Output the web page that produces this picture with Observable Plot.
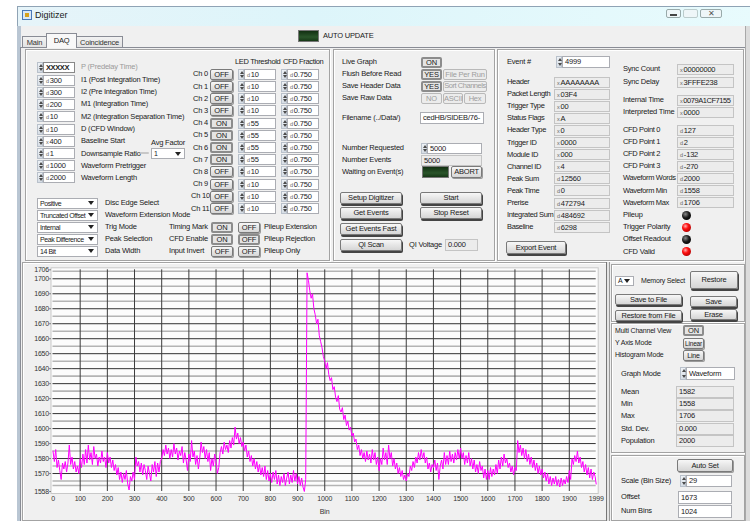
<!DOCTYPE html>
<html><head><meta charset="utf-8">
<script src="https://cdn.jsdelivr.net/npm/d3@7"></script>
<script src="https://cdn.jsdelivr.net/npm/@observablehq/plot@0.6"></script>
<style>
body{margin:0;width:750px;height:521px;overflow:hidden;background:#fff;font-family:"Liberation Sans",Arial,sans-serif;font-size:7.5px;letter-spacing:-0.2px;color:#1a1a1a;position:relative}
.a{position:absolute;white-space:nowrap;box-sizing:border-box}
.t{line-height:10px}
.box{border:1px solid #abadb3;background:#fff;padding-left:2px;overflow:hidden}
.ind{border:1px solid #c4c4c4;background:#ececec;padding-left:2px;overflow:hidden}
.rx{font-size:5.5px;color:#666;margin-right:1px}
.btn{border:1px solid #7a7a7a;border-radius:2px;background:linear-gradient(#f7f7f7,#e6e6e6 50%,#d6d6d6);text-align:center;box-shadow:1px 1px 0 #9a9a9a}
.big{box-shadow:1px 2px 0 #444}
.on{border:2px solid #8c8c8c;background:#e4e4e4;box-shadow:none}
.dis{color:#9d9d9d;border-color:#b9b9b9;background:#ececec;box-shadow:none}
.grp{border:1px solid #a3a3a3;box-shadow:inset 1px 1px 0 #fff,1px 1px 0 #fff}
.sp{border:1px solid #b9c1cb;background:linear-gradient(#eef2f6,#d6dde5)}
.sp i{position:absolute;left:0.5px;width:0;height:0;border-left:2px solid transparent;border-right:2px solid transparent}
.sp i:first-child{top:1px;border-bottom:3px solid #4a4a4a}
.sp i:last-child{bottom:1px;border-top:3px solid #4a4a4a}
.arr{border-left:3.5px solid transparent;border-right:3.5px solid transparent;border-top:4px solid #222}
.gled{border:1px solid #777;background:linear-gradient(#123012,#2a552a 60%,#163816)}
.rled{border-radius:50%}
.cond{letter-spacing:-0.45px}
.ddb{font-size:7px;letter-spacing:-0.4px}
</style></head><body>
<div id="ui"></div>
<div id="chart" class="a" style="left:27px;top:262px"></div>
<script>
// ---------- waveform data ----------
const bin = [
0,5,10,15,20,25,30,35,40,45,50,55,60,65,70,75,80,85,90,95,
100,105,110,115,120,125,130,135,140,145,150,155,160,165,170,175,180,185,190,195,
200,205,210,215,220,225,230,235,240,245,250,255,260,265,270,275,280,285,290,295,
300,305,310,315,320,325,330,335,340,345,350,355,360,365,370,375,380,385,390,395,
400,405,410,415,420,425,430,435,440,445,450,455,460,465,470,475,480,485,490,495,
500,505,510,515,520,525,530,535,540,545,550,555,560,565,570,575,580,585,590,595,
600,605,610,615,620,625,630,635,640,645,650,655,660,665,670,675,680,685,690,695,
700,705,710,715,720,725,730,735,740,745,750,755,760,765,770,775,780,785,790,795,
800,805,810,815,820,825,830,835,840,845,850,855,860,865,870,875,880,885,890,895,
900,905,910,915,920,925,930,935,940,945,950,955,960,965,970,975,980,985,990,995,
1000,1005,1010,1015,1020,1025,1030,1035,1040,1045,1050,1055,1060,1065,1070,1075,1080,1085,1090,1095,
1100,1105,1110,1115,1120,1125,1130,1135,1140,1145,1150,1155,1160,1165,1170,1175,1180,1185,1190,1195,
1200,1205,1210,1215,1220,1225,1230,1235,1240,1245,1250,1255,1260,1265,1270,1275,1280,1285,1290,1295,
1300,1305,1310,1315,1320,1325,1330,1335,1340,1345,1350,1355,1360,1365,1370,1375,1380,1385,1390,1395,
1400,1405,1410,1415,1420,1425,1430,1435,1440,1445,1450,1455,1460,1465,1470,1475,1480,1485,1490,1495,
1500,1505,1510,1515,1520,1525,1530,1535,1540,1545,1550,1555,1560,1565,1570,1575,1580,1585,1590,1595,
1600,1605,1610,1615,1620,1625,1630,1635,1640,1645,1650,1655,1660,1665,1670,1675,1680,1685,1690,1695,
1700,1705,1710,1715,1720,1725,1730,1735,1740,1745,1750,1755,1760,1765,1770,1775,1780,1785,1790,1795,
1800,1805,1810,1815,1820,1825,1830,1835,1840,1845,1850,1855,1860,1865,1870,1875,1880,1885,1890,1895,
1900,1905,1910,1915,1920,1925,1930,1935,1940,1945,1950,1955,1960,1965,1970,1975,1980,1985,1990,1995,1999];
const adc = [
1585,1578,1586,1574,1579,1572,1566,1577,1573,1578,1571,1577,1589,1576,1581,1573,1578,1571,1575,1570,
1580,1574,1583,1576,1586,1577,1589,1579,1584,1576,1588,1580,1583,1575,1581,1577,1585,1578,1581,1574,
1584,1577,1581,1574,1579,1572,1576,1569,1574,1566,1571,1564,1570,1566,1572,1563,1559,1568,1565,1571,
1566,1581,1575,1578,1571,1577,1569,1576,1572,1566,1575,1570,1565,1576,1571,1578,1568,1577,1571,1578,
1580,1586,1582,1589,1583,1587,1580,1586,1581,1590,1583,1587,1579,1585,1582,1588,1577,1584,1579,1572,
1583,1578,1592,1581,1585,1576,1582,1573,1580,1591,1584,1588,1580,1586,1578,1584,1572,1580,1575,1583,
1578,1570,1574,1584,1588,1583,1591,1586,1589,1584,1592,1587,1594,1589,1601,1593,1597,1590,1594,1588,
1591,1585,1589,1581,1585,1578,1582,1575,1580,1573,1578,1571,1576,1569,1574,1568,1575,1566,1572,1565,
1570,1564,1571,1566,1572,1563,1569,1562,1568,1564,1570,1562,1567,1571,1563,1569,1564,1572,1565,1570,
1563,1568,1562,1567,1561,1558,1566,1704,1699,1692,1687,1690,1680,1676,1670,1673,1662,1658,1654,1648,
1645,1640,1644,1636,1632,1634,1626,1628,1621,1618,1622,1613,1611,1614,1606,1609,1602,1605,1599,1601,
1595,1597,1591,1593,1586,1589,1582,1586,1580,1584,1578,1585,1579,1583,1577,1586,1579,1584,1576,1581,
1572,1580,1576,1587,1579,1584,1576,1589,1580,1584,1575,1580,1573,1577,1570,1574,1568,1572,1566,1569,
1565,1570,1568,1575,1572,1578,1574,1581,1577,1584,1579,1586,1580,1584,1577,1581,1573,1577,1571,1576,
1574,1579,1572,1577,1566,1575,1579,1573,1584,1576,1582,1576,1585,1578,1583,1577,1584,1579,1586,1580,
1587,1580,1584,1576,1582,1577,1584,1575,1580,1573,1579,1571,1576,1570,1578,1572,1575,1567,1573,1566,
1572,1566,1574,1568,1573,1569,1576,1570,1579,1573,1581,1575,1583,1577,1580,1574,1577,1571,1575,1569,
1574,1572,1592,1584,1589,1582,1587,1580,1586,1578,1583,1576,1581,1574,1579,1572,1577,1570,1575,1569,
1573,1567,1571,1565,1570,1563,1568,1562,1567,1563,1568,1562,1566,1561,1567,1562,1566,1563,1568,1564,
1572,1566,1580,1576,1582,1578,1585,1577,1581,1574,1578,1571,1576,1569,1574,1567,1573,1566,1571,1568,1563];
const xTicks = [0,100,200,300,400,500,600,700,800,900,1000,1100,1200,1300,1400,1500,1600,1700,1800,1900,1999];
const yTicks = [1558,1570,1580,1590,1600,1610,1620,1630,1640,1650,1660,1670,1680,1690,1700,1706];
const xGrid = [100,200,300,400,500,600,700,800,900,1000,1100,1200,1300,1400,1500,1600,1700,1800,1900];
const yMajor = [1570,1580,1590,1600,1610,1620,1630,1640,1650,1660,1670,1680,1690,1700];
const yMinor = [1562,1565,1575,1585,1595,1605,1615,1625,1635,1645,1655,1665,1675,1685,1695,1705];

// ---------- GUI panel texts ----------
const leftVals = ["300","300","200","10","10","400","1","1000","2000"];
const leftPre = ["d","d","d","d","d","x","d","d","d"];
const leftLabels = ["I1 (Post Integration Time)","I2 (Pre Integration Time)","M1 (Integration Time)","M2 (Integration Separation Time)","D (CFD Window)","Baseline Start","Downsample Ratio","Waveform Pretrigger","Waveform Length"];
const chState = ["OFF","OFF","OFF","OFF","ON","ON","ON","ON","OFF","OFF","OFF","OFF"];
const ledThr = [10,10,10,10,55,55,55,55,10,10,10,10];
const cfdFrac = ["0.750","0.750","0.750","0.750","0.750","0.750","0.750","0.750","0.750","0.750","0.750","0.750"];
const ddVals = ["Positive","Truncated Offset","Internal","Peak Difference","14 Bit"];
const ddLabels = ["Disc Edge Select","Waveform Extension Mode","Trig Mode","Peak Selection","Data Width"];
const hdrLabels = ["Header","Packet Length","Trigger Type","Status Flags","Header Type","Trigger ID","Module ID","Channel ID","Peak Sum","Peak Time","Prerise","Integrated Sum","Baseline"];
const hdrPre = ["x","x","x","x","x","x","x","x","d","d","d","d","d"];
const hdrVals = ["AAAAAAAA","03F4","00","A","0","0000","000","4","12560","0","472794","484692","6298"];
const cfdLabels = ["CFD Point 0","CFD Point 1","CFD Point 2","CFD Point 3","Waveform Words","Waveform Min","Waveform Max"];
const cfdVals = ["127","2","-132","-270","2000","1558","1706"];
const flagLabels = ["Pileup","Trigger Polarity","Offset Readout","CFD Valid"];
const flagOn = [false,true,false,true];
const statLabels = ["Mean","Min","Max","Std. Dev.","Population"];
const statVals = ["1582","1558","1706","0.000","2000"];

// ---------- GUI helpers ----------
const ui = document.getElementById('ui');
function el(cls,x,y,w,h,html,style){
  const d=document.createElement('div'); d.className='a '+cls;
  d.style.left=x+'px'; d.style.top=y+'px';
  if(w!=null) d.style.width=w+'px'; if(h!=null) d.style.height=h+'px';
  if(html!=null) d.innerHTML=html; if(style) Object.assign(d.style,style);
  ui.appendChild(d); return d;
}
const T=(x,yc,t,style)=>el('t',x,yc-5,null,10,t,style);
function box(x,y,w,h,txt,cls,pre){const d=el(cls||'box',x,y,w,h,(pre?'<span class="rx">'+pre+'</span>':'')+txt);d.style.lineHeight=(h-2)+'px';return d;}
function btn(x,y,w,h,txt,cls){const d=el('btn '+(cls||''),x,y,w,h,txt);d.style.lineHeight=(h-(cls&&cls.includes('on')?4:2))+'px';return d;}
function spin(x,y,w,h,txt,pre){el('sp',x,y,6,h,'<i></i><i></i>');return box(x+6,y,w-6,h,txt,'box',pre);}
function dd(x,y,w,h,txt){box(x,y,w,h,txt,'box ddb');if(w>30)el('',x+w-12,y+1,11,h-2,'',{background:'#fff'});el('arr',x+w-10,y+h/2-2,0,0,'');}
function rled(cx,cy,r,on){el('rled',cx-r,cy-r,2*r,2*r,'',{background:on?'radial-gradient(circle at 38% 35%,#ffb0b0 0,#ff1010 35%,#b00000 80%)':'radial-gradient(circle at 38% 35%,#8a8a8a 0,#1a1a1a 45%,#000 80%)'});}

// window chrome
el('',17,6,740,20,'',{background:'linear-gradient(90deg,#e6f4f9,#ddf5fa 40%,#e8fbfd)',borderTop:'1px solid #8fa3b5',borderLeft:'1px solid #8fa3b5'});
el('',22,10,10,10,'',{border:'1px solid #4a79b8',background:'#d9e8f8'});
el('',25,13,4,4,'',{background:'#d7a21e'});
T(35,15,'Digitizer',{fontSize:'9px',letterSpacing:'0'});
el('',666,9,15,9,'',{border:'1px solid #9aa',borderRadius:'2px',background:'#eef6f8'});
el('',670,14,7,2,'',{background:'#444'});
el('',683,9,15,9,'',{border:'1px solid #bcc',borderRadius:'2px',background:'#eef6f8'});
el('',700,9,22,9,'✕',{border:'1px solid #9aa',borderRadius:'2px',background:'#eef6f8',textAlign:'center',lineHeight:'8px',fontSize:'8px',color:'#555'});
el('',17,26,740,500,'',{background:'#f0f0f0',borderLeft:'4px solid #b9c6d3'});
// tabs
el('',20,47,730,480,'',{border:'1px solid #898c95',background:'#f0f0f0'});
el('',22,36,25,12,'<div class="t" style="text-align:center;line-height:11px;color:#333">Main</div>',{border:'1px solid #898c95',background:'linear-gradient(#f2f2f2,#e3e3e3)'});
el('',76,36,47,12,'<div class="t" style="text-align:center;line-height:11px;color:#333">Coincidence</div>',{border:'1px solid #898c95',background:'linear-gradient(#f2f2f2,#e3e3e3)'});
el('',46,33,31,15,'<div class="t" style="text-align:center;line-height:13px">DAQ</div>',{border:'1px solid #898c95',borderBottom:'none',background:'#f8f8f8'});
el('gled',298,30,21,12,'');
T(323,36,'AUTO UPDATE');

// group boxes
el('grp',25,49,305,212,'');
el('grp',333,49,162,212,'');
el('grp',497,49,247,212,'');
el('grp',22,262,585,259,'');
el('',606,262,4,259,'',{borderLeft:'1px solid #777',borderRight:'1px solid #999',background:'#e4e4e4'});
el('grp',611,264,134,58,'');
el('grp',611,323,134,130,'');
el('grp',611,455,134,66,'');
el('',745,26,5,495,'',{background:'#dcdcdc',borderLeft:'1px solid #a8a8a8'});

// left panel
el('sp',37,62,6,11,'<i></i><i></i>');
box(43,62,32,11,'XXXXX','box','').style.cssText+='border:1px solid #888;font-weight:bold;letter-spacing:-0.4px;';
T(81,67,'P (Predelay Time)',{color:'#9a9a9a'});
const rowY=[80,92,104,116.5,129,141,153.5,165.5,177.5];
leftVals.forEach((v,i)=>{spin(37,rowY[i]-5.5,38,11,v,leftPre[i]);T(81,rowY[i],leftLabels[i]);});
T(151,143,'Avg Factor');
el('',140,152,9,2,'',{background:'#c8c8c8',borderRadius:'1px'});
dd(151,148,34,11,'1');
T(235,62,'LED Threshold',{letterSpacing:'-0.35px'});T(283,62,'CFD Fraction',{letterSpacing:'-0.35px'});
chState.forEach((s,i)=>{const y=74.3+12.2*i;T(i>=10?191:193,y,'Ch '+i);btn(210,y-5.5,23,11,s,s==='ON'?'on':'');spin(238,y-5.5,38,11,String(ledThr[i]),'d');spin(281,y-5.5,38,11,cfdFrac[i],'d');});
const ddY=[203,215,227,239,251];
ddVals.forEach((v,i)=>{dd(37,ddY[i]-5.5,61,11,v);T(105,ddY[i],ddLabels[i]);});
T(169,227,'Timing Mark');T(169,239,'CFD Enable');T(169,251,'Input Invert');
btn(211,221.5,22,11,'ON','on');btn(211,233.5,22,11,'ON','on');btn(211,245.5,22,11,'OFF');
btn(238,221.5,22,11,'OFF');btn(238,233.5,22,11,'OFF','on');btn(238,245.5,22,11,'OFF');
T(264,227,'Pileup Extension');T(264,239,'Pileup Rejection');T(264,251,'Pileup Only');

// middle panel
T(342,62,'Live Graph');btn(421,57,21,11,'ON','on');
T(342,74,'Flush Before Read');btn(421,69,21,11,'YES','on');btn(443,69,44,11,'File Per Run','dis');
T(342,86,'Save Header Data');btn(421,81,21,11,'YES','on');btn(443,81,44,11,'Sort Channels','dis cond');
T(342,98,'Save Raw Data');btn(421,93,21,11,'NO','dis');btn(443,93,20,11,'ASCII','dis');btn(464,93,22,11,'Hex','dis');
T(342,118,'Filename (../Data/)');box(420,112,64,12,'cedHB/SIDEB/76-');
T(342,148,'Number Requested');spin(421,143,61,11,'5000');
T(342,160,'Number Events');box(421,155,61,11,'5000','ind');
T(342,172,'Waiting on Event(s)');el('gled',422,166,27,12,'');btn(451,166,31,12,'ABORT');
btn(340,192,62,12,'Setup Digitizer','big');btn(420,192,62,12,'Start','big');
btn(340,207,62,12,'Get Events','big');btn(420,207,62,12,'Stop Reset','big');
btn(340,223,62,12,'Get Events Fast','big');
btn(340,239,62,12,'QI Scan','big');T(409,245,'QI Voltage');box(445,239,33,12,'0.000','ind');

// right panel
T(507,62,'Event #');spin(556,56,54,12,'4999');
hdrLabels.forEach((l,i)=>{const y=82+12.1*i;T(507,y,l,{letterSpacing:'-0.35px'});box(554,y-5.5,56,11,hdrVals[i],'ind',hdrPre[i]);});
btn(506,241,60,13,'Export Event','big');
T(623,69,'Sync Count');box(677,63.5,57,11,'00000000','ind','x');
T(623,82,'Sync Delay');box(677,76.5,57,11,'3FFFE238','ind','x');
T(623,100,'Internal Time');box(677,94.5,57,11,'0079A1CF7155','ind cond','x');
T(623,112,'Interpreted Time');box(677,106.5,57,11,'0000','ind','x');
cfdLabels.forEach((l,i)=>{const y=130+12.1*i;T(623,y,l,{letterSpacing:'-0.35px'});box(677,y-5.5,57,11,cfdVals[i],'ind','d');});
flagLabels.forEach((l,i)=>{const y=215+12.2*i;T(623,y,l);rled(686,y,4.5,flagOn[i]);});

// bottom-right panels
dd(615,276,19,10,'A');T(641,281,'Memory Select',{fontSize:'7px'});
btn(690,271,48,18,'Restore','big');
btn(615,294,67,11,'Save to File','big');btn(690,296,47,11,'Save','big');
btn(615,310,67,11,'Restore from File','big');btn(690,309,47,11,'Erase','big');
T(615,331,'Multi Channel View',{fontSize:'7px'});btn(683,325,21,11,'ON','on');
T(615,343,'Y Axis Mode',{fontSize:'7px'});btn(683,338,21,11,'Linear',null).style.fontSize='6.5px';
T(615,355,'Histogram Mode',{fontSize:'7px'});btn(683,350,21,11,'Line',null).style.fontSize='7px';
T(621,374,'Graph Mode');spin(680,367,55,13,'Waveform');
statLabels.forEach((l,i)=>{const y=392+12.2*i;T(621,y,l);box(676,y-6,58,12,statVals[i],'ind');});
btn(677,459,56,13,'Auto Set');
T(621,481,'Scale (Bin Size)');spin(680,475,52,12,'29');
T(621,497,'Offset');box(678,491,54,13,'1673');
T(621,511,'Num Bins');box(678,505,54,13,'1024');

// ---------- the waveform chart ----------
const data = bin.map((b,i)=>({bin:b, adc:adc[i]}));
const fmt = d3.format("d");
const chart = Plot.plot({
  width: 578, height: 259,
  marginLeft: 25.5, marginRight: 9.3, marginTop: 7.3, marginBottom: 30,
  style: {background:'transparent', fontFamily:'Liberation Sans, Arial, sans-serif', fontSize:'7px', color:'#333', overflow:'visible'},
  x: {domain:[0,1999], ticks: xTicks, tickFormat: fmt, tickSize: 3, tickPadding: 2, label:'Bin', labelAnchor:'center', labelArrow:'none', labelOffset: 22},
  y: {domain:[1558,1706], ticks: yTicks, tickFormat: fmt, tickSize: 3, tickPadding: 1, label: null},
  marks: [
    Plot.frame({fill:'#fcfcfc', stroke:'#c8c8c8', inset:-2}),
    Plot.ruleY(yMinor, {stroke:'#b4b4b4', strokeWidth:1.6}),
    Plot.ruleY(yMajor, {stroke:'#333', strokeWidth:1}),
    Plot.ruleX(xGrid, {stroke:'#3c3c3c', strokeWidth:1}),
    Plot.line(data, {x:'bin', y:'adc', stroke:'#ff00ff', strokeWidth:1})
  ]
});
document.getElementById('chart').appendChild(chart);
</script>
</body></html>
